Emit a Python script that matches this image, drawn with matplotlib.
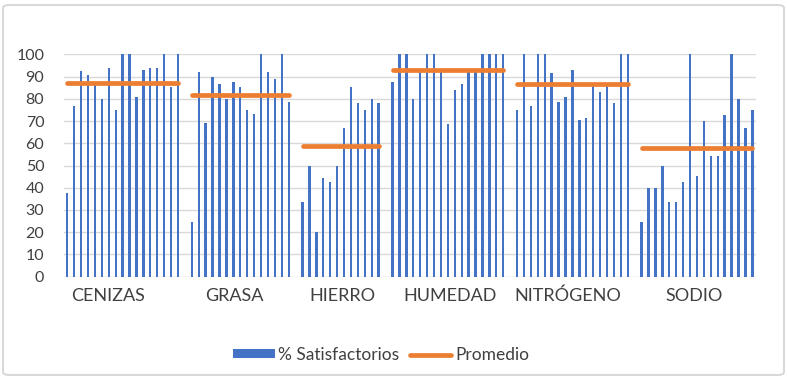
import numpy as np
import matplotlib
matplotlib.use("Agg")
import matplotlib.pyplot as plt
from matplotlib.patches import FancyBboxPatch, Patch
from matplotlib.lines import Line2D

plt.rcParams['font.family'] = ['Lato', 'DejaVu Sans']

categories = ["CENIZAS", "GRASA", "HIERRO", "HUMEDAD", "NITRÓGENO", "SODIO"]

cenizas = [37.5, 76.8, 92.7, 90.9, 86.2, 79.8, 93.7, 74.8, 100, 100, 81.0, 92.8, 93.7, 93.7, 100, 85.5, 100]
grasa = [24.7, 92.2, 69.0, 90.0, 86.7, 79.8, 87.4, 85.5, 74.8, 73.2, 100, 92.2, 88.8, 100, 78.6]
hierro = [33.4, 49.9, 20.1, 44.5, 42.7, 49.9, 66.9, 85.5, 78.0, 75.0, 79.9, 78.0]
humedad = [87.4, 100, 100, 79.9, 92.0, 100, 100, 92.0, 68.5, 84.0, 86.7, 92.0, 92.0, 100, 100, 100, 100]
nitrogeno = [74.8, 100, 76.9, 100, 100, 91.5, 78.7, 81.0, 92.8, 70.5, 71.2, 85.8, 83.2, 85.8, 78.0, 100, 100]
sodio = [24.7, 40.0, 40.0, 49.9, 33.4, 33.4, 42.7, 100, 45.3, 70.0, 54.4, 54.4, 72.6, 100, 79.9, 66.9, 75.0]

promedio = [87.3, 81.6, 58.6, 92.8, 86.7, 57.7]

groups = [cenizas, grasa, hierro, humedad, nitrogeno, sodio]

BLUE = "#4472C4"
ORANGE = "#ED7D31"

fig = plt.figure(figsize=(7.87, 3.79), dpi=100)
ax = fig.add_axes([63.8 / 787, 1 - 276.7 / 379, 692 / 787, (276.7 - 54.3) / 379])

# Build slot positions: one empty slot between groups
start = 0
label_pos = []
label_offsets = [5.9, 6.2, 5.8, 8.3, 7.4, 7.6]
for i, vals in enumerate(groups):
    x = np.arange(start, start + len(vals))
    ax.bar(x, vals, width=0.34, color=BLUE, zorder=2)
    ax.plot(x, [promedio[i]] * len(vals), color=ORANGE, lw=3.4,
            solid_capstyle='round', zorder=3)
    label_pos.append(start + label_offsets[i])
    start += len(vals) + 1

ax.set_xlim(-0.5, start - 1.5)
ax.set_ylim(0, 100)
ax.set_yticks(np.arange(0, 101, 10))
ax.yaxis.grid(True, color="#D9D9D9", lw=1.0, zorder=0)
ax.set_axisbelow(True)
for s in ax.spines.values():
    s.set_visible(False)
ax.tick_params(axis='both', length=0)
ax.tick_params(axis='y', labelsize=11.5, labelcolor="#404040", pad=14)
ax.set_xticks(label_pos)
ax.set_xticklabels(categories, fontsize=13, color="#404040")
ax.tick_params(axis='x', pad=8)

handles = [Patch(facecolor=BLUE, edgecolor='none'),
           Line2D([0], [0], color=ORANGE, lw=3.4, solid_capstyle='round')]
fig.legend(handles, ["% Satisfactorios", "Promedio"], loc='center',
           bbox_to_anchor=(381 / 787, 1 - 355 / 379), ncol=2, frameon=False,
           fontsize=12.5, handlelength=2.4, handleheight=0.4, handletextpad=0.2,
           columnspacing=0.6, labelcolor="#404040")

border = FancyBboxPatch((3 / 787, 4 / 379), 781 / 787, 370 / 379,
                        boxstyle="round,pad=0,rounding_size=0.008",
                        transform=fig.transFigure, facecolor='none',
                        edgecolor="#D9D9D9", lw=1.5)
fig.patches.append(border)

fig.savefig("out.png", dpi=100)
